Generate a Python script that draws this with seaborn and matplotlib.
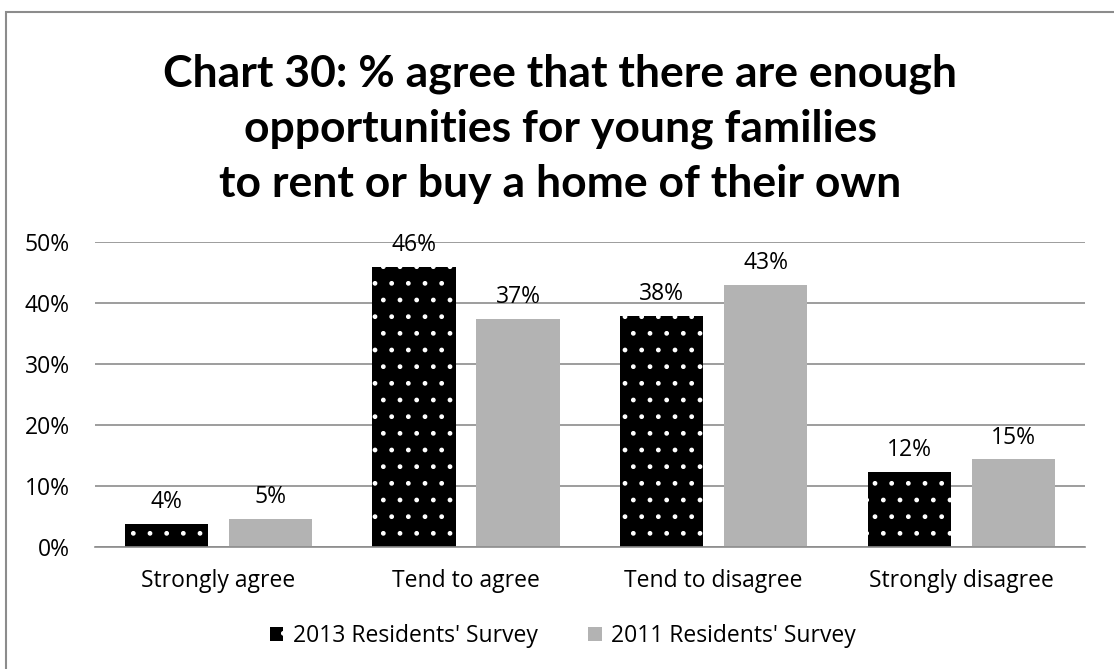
import pandas as pd
import numpy as np
import matplotlib.pyplot as plt
import matplotlib.patches as mpatches
import seaborn as sns

# === Dados ===
categories = ["Strongly agree", "Tend to agree", "Tend to disagree", "Strongly disagree"]
series_names = ["2013 Residents' Survey", "2011 Residents' Survey"]
values_2013 = [3.8, 45.9, 37.9, 12.3]
values_2011 = [4.7, 37.4, 43.0, 14.4]
labels_2013 = ["4%", "46%", "38%", "12%"]
labels_2011 = ["5%", "37%", "43%", "15%"]
y_ticks = [0, 10, 20, 30, 40, 50]

df = pd.DataFrame({
    "category": categories * 2,
    "survey": [series_names[0]] * 4 + [series_names[1]] * 4,
    "value": values_2013 + values_2011,
})

sns.set_style("white")
plt.rcParams['font.family'] = ['Open Sans', 'DejaVu Sans']
plt.rcParams['hatch.linewidth'] = 1.0
plt.rcParams['text.color'] = 'black'
plt.rcParams['xtick.color'] = 'black'
plt.rcParams['ytick.color'] = 'black'

fs = 16.5

fig = plt.figure(figsize=(11.14, 6.69), dpi=100)
ax = fig.add_axes([0.085, 0.182, 0.889, 0.456])

palette = {series_names[0]: "black", series_names[1]: "#b3b3b3"}
sns.barplot(data=df, x="category", y="value", hue="survey", order=categories,
            hue_order=series_names, palette=palette, width=0.84, gap=0.2,
            saturation=1, ax=ax, legend=False)

# pontos brancos nas barras de 2013
n = len(categories)
for i, bar in enumerate(ax.patches):
    if i < n:
        bar.set_hatch('.')
        bar.set_edgecolor('white')
        bar.set_linewidth(0)
    else:
        bar.set_edgecolor('none')

# etiquetas de dados
for cont, labs in zip(ax.containers, [labels_2013, labels_2011]):
    ax.bar_label(cont, labels=labs, padding=7, fontsize=fs, color='black')

ax.set_ylim(0, 50)
ax.set_yticks(y_ticks)
ax.set_yticklabels([f"{t}%" for t in y_ticks], fontsize=fs)
ax.tick_params(axis='x', labelsize=fs, length=0, pad=16)
ax.tick_params(axis='y', length=0, pad=18)
ax.set_xlabel("")
ax.set_ylabel("")
ax.yaxis.grid(True, color="#8c8c8c", linewidth=1.2)
ax.set_axisbelow(True)
for s in ["top", "right", "left"]:
    ax.spines[s].set_visible(False)
ax.spines["bottom"].set_color("#8c8c8c")
ax.spines["bottom"].set_linewidth(1.2)

fig.text(0.503, 0.808, "Chart 30: % agree that there are enough\nopportunities for young families\nto rent or buy a home of their own",
         ha="center", va="center", fontsize=32, fontweight="bold", linespacing=1.45,
         family=['Lato', 'DejaVu Sans'])

# legenda
h1 = mpatches.Patch(facecolor="black", edgecolor="white", hatch='.', linewidth=0)
h2 = mpatches.Patch(facecolor="#b3b3b3", edgecolor="none")
fig.legend([h1, h2], series_names, loc="center", bbox_to_anchor=(0.505, 0.049),
           ncol=2, frameon=False, fontsize=fs, handlelength=0.6, handleheight=0.6,
           columnspacing=2.2, handletextpad=0.4)

# moldura
fig.patches.append(mpatches.Rectangle((0.005, -0.05), 1.1, 1.032, transform=fig.transFigure,
                                      fill=False, edgecolor="#8c8c8c", linewidth=1.5))

fig.savefig("out.png", dpi=100)
